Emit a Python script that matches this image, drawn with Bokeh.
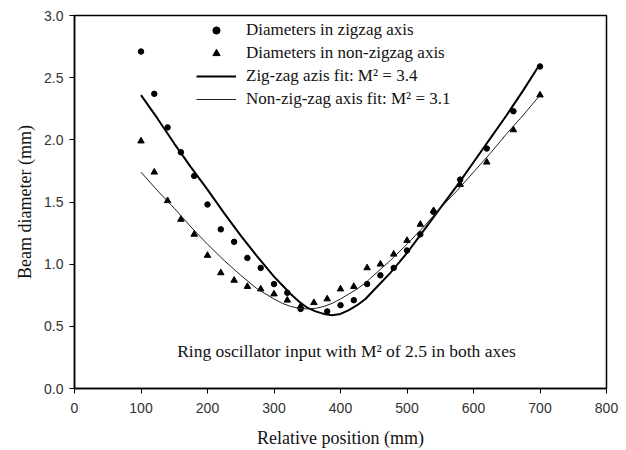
from bokeh.plotting import figure
from bokeh.models import Range1d, Legend, LegendItem, Label, FixedTicker, CustomJSTickFormatter
from bokeh.embed import file_html
from bokeh.resources import INLINE

# Measured data: diameters in zigzag axis (circles)
zz_x = [100, 120, 140, 160, 180, 200, 220, 240, 260, 280, 300, 320, 340,
        380, 400, 420, 440, 460, 480, 500, 520, 540, 580, 620, 660, 700]
zz_y = [2.71, 2.37, 2.10, 1.90, 1.71, 1.48, 1.28, 1.18, 1.05, 0.97, 0.84, 0.77, 0.64,
        0.62, 0.67, 0.71, 0.84, 0.91, 0.97, 1.11, 1.24, 1.42, 1.68, 1.93, 2.23, 2.59]

# Measured data: diameters in non-zigzag axis (triangles)
nz_x = [100, 120, 140, 160, 180, 200, 220, 240, 260, 280, 300, 320, 340, 360,
        380, 400, 420, 440, 460, 480, 500, 520, 540, 580, 620, 660, 700]
nz_y = [1.99, 1.74, 1.51, 1.36, 1.24, 1.07, 0.93, 0.87, 0.82, 0.80, 0.76, 0.71, 0.66, 0.69,
        0.72, 0.80, 0.82, 0.97, 1.00, 1.08, 1.19, 1.32, 1.43, 1.64, 1.82, 2.08, 2.36]

# Fit curves
fit_x = [100, 125, 150, 175, 200, 225, 250, 275, 300, 312.5, 325, 337.5, 350, 362.5, 375,
         387.5, 400, 412.5, 425, 437.5, 450, 475, 500, 525, 550, 575, 600, 625, 650, 675, 700]
zz_fit = [2.36, 2.17, 1.97, 1.78, 1.60, 1.41, 1.23, 1.06, 0.90, 0.83, 0.76, 0.70, 0.65, 0.62, 0.60,
          0.59, 0.60, 0.63, 0.67, 0.72, 0.79, 0.93, 1.09, 1.27, 1.45, 1.63, 1.82, 2.01, 2.20, 2.40, 2.61]
nz_fit = [1.74, 1.59, 1.45, 1.30, 1.16, 1.03, 0.91, 0.80, 0.72, 0.685, 0.66, 0.645, 0.64, 0.645, 0.66,
          0.685, 0.72, 0.76, 0.80, 0.85, 0.91, 1.03, 1.16, 1.30, 1.45, 1.59, 1.74, 1.89, 2.05, 2.20, 2.36]

x_ticks = [0, 100, 200, 300, 400, 500, 600, 700, 800]
y_ticks = [0.0, 0.5, 1.0, 1.5, 2.0, 2.5, 3.0]

labels = ["Diameters in zigzag axis", "Diameters in non-zigzag axis",
          "Zig-zag azis fit: M\u00b2 = 3.4", "Non-zig-zag axis fit: M\u00b2 = 3.1"]
note = "Ring oscillator input with M\u00b2 of 2.5 in both axes"
x_title = "Relative position (mm)"
y_title = "Beam diameter (mm)"

SERIF = "Liberation Serif"

p = figure(width=626, height=450, output_backend="svg", toolbar_location=None,
           x_range=Range1d(0, 800), y_range=Range1d(0, 3),
           min_border_left=74, min_border_right=20, min_border_top=15, min_border_bottom=62)
p.background_fill_color = "white"
p.border_fill_color = "white"
p.xgrid.visible = False
p.ygrid.visible = False
p.outline_line_color = "black"
p.outline_line_width = 1.5

for ax in (p.xaxis[0], p.yaxis[0]):
    ax.axis_line_width = 1.5
    ax.axis_line_color = "black"
    ax.major_tick_out = 5
    ax.major_tick_in = 0
    ax.minor_tick_out = 0
    ax.minor_tick_in = 0
    ax.major_tick_line_color = "black"
    ax.major_label_text_font = "Liberation Sans"
    ax.major_label_text_font_size = "14px"
    ax.major_label_text_color = "#333333"
    ax.axis_label_text_font = SERIF
    ax.axis_label_text_font_size = "18px"
    ax.axis_label_text_font_style = "normal"
    ax.axis_label_text_color = "#111111"

p.xaxis.ticker = FixedTicker(ticks=x_ticks)
p.yaxis.ticker = FixedTicker(ticks=y_ticks)
p.yaxis.formatter = CustomJSTickFormatter(code="return tick.toFixed(1);")
p.xaxis.axis_label = x_title
p.yaxis.axis_label = y_title
p.xaxis.major_label_standoff = 9
p.yaxis.major_label_standoff = 6
p.xaxis.axis_label_standoff = 12
p.yaxis.axis_label_standoff = 6

r_c = p.scatter(zz_x, zz_y, marker="circle", size=5.5, color="black")
r_t = p.scatter(nz_x, nz_y, marker="triangle", size=6.5, color="black")
r_l1 = p.line(fit_x, zz_fit, line_color="black", line_width=2)
r_l2 = p.line(fit_x, nz_fit, line_color="#222222", line_width=1)

legend = Legend(items=[LegendItem(label=labels[0], renderers=[r_c]),
                       LegendItem(label=labels[1], renderers=[r_t]),
                       LegendItem(label=labels[2], renderers=[r_l1]),
                       LegendItem(label=labels[3], renderers=[r_l2])],
                location=(122, 279))
legend.background_fill_alpha = 0
legend.border_line_color = None
legend.padding = 0
legend.margin = 0
legend.spacing = 3
legend.glyph_width = 40
legend.glyph_height = 18
legend.label_height = 18
legend.label_standoff = 10
legend.label_text_font = SERIF
legend.label_text_font_size = "17px"
legend.label_text_color = "#111111"
p.add_layout(legend)

p.add_layout(Label(x=409, y=0.30, text=note, text_align="center", text_baseline="middle",
                   text_font=SERIF, text_font_size="17.5px", text_color="#111111"))

open("out.html", "w").write(file_html(p, INLINE))
